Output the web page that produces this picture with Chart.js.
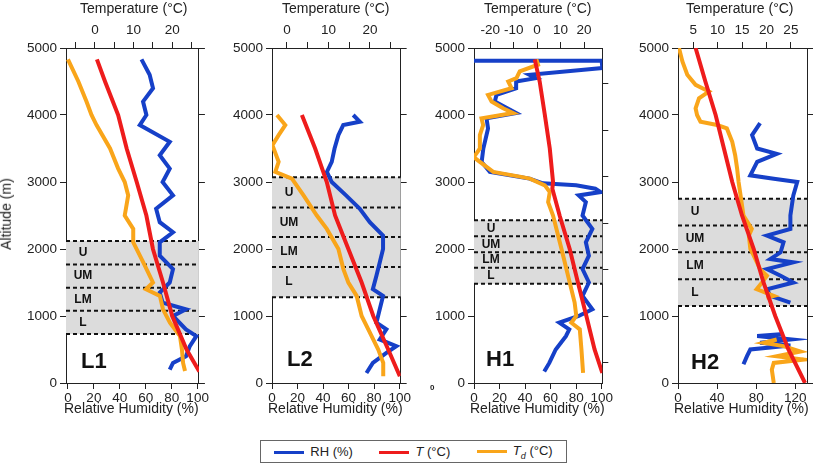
<!DOCTYPE html>
<html>
<head>
<meta charset="utf-8">
<script src="https://cdn.jsdelivr.net/npm/chart.js@4"></script>
<style>
  body { margin: 0; background: #fff; font-family: "Liberation Sans", Arial, sans-serif; }
  #wrap { position: relative; width: 821px; height: 464px; overflow: hidden; }
  canvas { position: absolute; top: 0; }
  .txt { position: absolute; font-size: 14px; color: #222; white-space: nowrap; }
  .big { position: absolute; font-size: 22px; font-weight: bold; color: #111; }
  #legend { position: absolute; left: 260px; top: 440px; width: 305px; height: 21px; border: 1px solid #666;
            display: flex; align-items: center; justify-content: space-around; font-size: 13px; color: #222; }
  .sw { display: inline-block; width: 30px; height: 3px; vertical-align: middle; margin-right: 6px; }
</style>
</head>
<body>
<div id="wrap">
  <canvas id="c0" width="210" height="420" style="left:0px;width:210px;height:420px"></canvas>
  <canvas id="c1" width="190" height="420" style="left:222px;width:190px;height:420px"></canvas>
  <canvas id="c2" width="190" height="420" style="left:424px;width:190px;height:420px"></canvas>
  <canvas id="c3" width="190" height="420" style="left:628px;width:190px;height:420px"></canvas>

  <div class="txt" style="left:80px;top:0px">Temperature (°C)</div>
  <div class="txt" style="left:282px;top:0px">Temperature (°C)</div>
  <div class="txt" style="left:484px;top:0px">Temperature (°C)</div>
  <div class="txt" style="left:686px;top:0px">Temperature (°C)</div>
  <div class="txt" style="left:64px;top:400px">Relative Humidity (%)</div>
  <div class="txt" style="left:268px;top:400px">Relative Humidity (%)</div>
  <div class="txt" style="left:470px;top:400px">Relative Humidity (%)</div>
  <div class="txt" style="left:674px;top:400px">Relative Humidity (%)</div>
  <div class="txt" style="left:-30px;top:206px;transform:rotate(-90deg)">Altitude (m)</div>
  <div class="txt" style="left:430px;top:383px;font-size:8px;font-weight:bold">0</div>

  <div class="big" style="left:81px;top:348px">L1</div>
  <div class="big" style="left:287px;top:346px">L2</div>
  <div class="big" style="left:486px;top:346px">H1</div>
  <div class="big" style="left:691px;top:349px">H2</div>

  <div id="legend">
    <span><span class="sw" style="background:#1640c8"></span>RH (%)</span>
    <span><span class="sw" style="background:#ee1c1c"></span><i>T</i> (°C)</span>
    <span><span class="sw" style="background:#f9a51a"></span><i>T</i><sub style="font-size:9px"><i>d</i></sub> (°C)</span>
  </div>
</div>

<script>
// ---- L1 ----
const l1TAlt = [4830, 4500, 4000, 3500, 3000, 2500, 2000, 1500, 1000, 500, 170];
const l1T = [0.5, 2.6, 6, 8.2, 10.8, 13.3, 15, 17.6, 20, 23.7, 27];
const l1TdAlt = [4830, 4500, 4200, 4000, 3850, 3500, 3200, 3000, 2800, 2500, 2300, 2100, 1800, 1500, 1400, 1300, 1100, 900, 700, 500, 300, 180];
const l1Td = [-7, -4.3, -2.2, -0.9, 0.4, 3.9, 6, 7.7, 8.6, 7.7, 9.9, 9.9, 12.5, 15, 13.2, 16.8, 17.6, 19.4, 22, 22.5, 22.8, 23.3];
const l1RhAlt = [4830, 4600, 4400, 4200, 4000, 3850, 3600, 3400, 3200, 3000, 2800, 2600, 2400, 2250, 2100, 1900, 1700, 1500, 1350, 1200, 1100, 1000, 800, 700, 550, 400, 300, 200];
const l1Rh = [56.7, 63, 65.6, 57.9, 60.5, 55.4, 78.5, 70.8, 78.5, 73, 81, 68, 70.8, 81, 70.8, 70.8, 81, 78.5, 70.8, 73, 91, 81, 91, 99, 94, 91, 81, 78.5];
const l1Layers = [2120, 1770, 1420, 1080, 730];

// ---- L2 ----
const l2TAlt = [4000, 3500, 3000, 2500, 2000, 1500, 1000, 500, 100];
const l2T = [3.6, 6.8, 9.6, 11.6, 14.8, 18, 20.8, 24.4, 27.2];
const l2TdAlt = [4000, 3850, 3700, 3550, 3300, 3150, 3050, 2800, 2500, 2300, 2000, 1700, 1500, 1300, 1000, 800, 500, 300, 100];
const l2Td = [-2.4, -0.4, -2, -3.5, -2, -2.8, 1.2, 4, 7.2, 9.6, 12.4, 13.6, 14.8, 16.8, 18, 19.6, 22, 23.2, 23.2];
const l2RhAlt = [4000, 3900, 3850, 3700, 3500, 3300, 3150, 3000, 2800, 2600, 2400, 2200, 2000, 1800, 1600, 1400, 1300, 1100, 900, 800, 650, 550, 450, 300, 150];
const l2Rh = [63.6, 68.8, 55.8, 52, 49, 46.8, 43, 46.8, 58, 68.8, 76.6, 87, 87, 84.4, 81.8, 79, 87, 84.4, 81.8, 89.6, 84.4, 97.4, 89.6, 79, 74];
const l2Layers = [3070, 2620, 2180, 1730, 1280];

// ---- H1 ----
const h1TAlt = [4830, 4500, 4000, 3500, 3000, 2900, 2500, 2000, 1500, 1000, 500, 150];
const h1T = [-1, 1.1, 3.3, 5.4, 6.8, 6.5, 9.6, 13.9, 17.4, 21, 24.5, 27.8];
const h1TdAlt = [4830, 4750, 4650, 4550, 4500, 4400, 4300, 4200, 4100, 4030, 4000, 3950, 3850, 3700, 3500, 3370, 3300, 3150, 3080, 3050, 2950, 2850, 2700, 2500, 2000, 1500, 1200, 1000, 900, 800, 500, 150];
const h1Td = [-0.3, 0.4, -7.4, -8.8, -12.3, -10.9, -20.9, -19.4, -14.5, -10.2, -15.2, -23.7, -23, -24.4, -24.4, -27, -24.4, -18.7, -7.4, -3.1, 3.3, 5.4, 4.7, 6.8, 10.4, 13.9, 16, 16.7, 14.6, 18.2, 18.9, 19.6];
const h1RhAlt = [4810, 4810, 4700, 4600, 4550, 4500, 4400, 4300, 4200, 4030, 3950, 3800, 3500, 3300, 3150, 3050, 2980, 2950, 2900, 2850, 2800, 2700, 2500, 2300, 2100, 1900, 1700, 1500, 1300, 1100, 1000, 900, 800, 700, 500, 300, 170];
const h1Rh = [0, 100, 100.5, 43.5, 48.7, 33, 33, 17.6, 16.3, 33, 9.8, 11, 7.3, 6, 12.4, 43.5, 54, 80, 95, 99, 82, 87.6, 85, 92.7, 87.6, 90, 85, 90, 85, 92.7, 82, 66.8, 74.6, 72, 64, 59, 55];
const h1Layers = [2430, 2190, 1950, 1720, 1480];

// ---- H2 ----
const h2TAlt = [5000, 4500, 4000, 3500, 3000, 2500, 2000, 1500, 1000, 500, 0];
const h2T = [5.5, 7.5, 9.6, 11.3, 13, 15, 17.4, 19.4, 21.8, 24.5, 27.9];
const h2TdAlt = [5000, 4800, 4600, 4450, 4350, 4250, 4100, 4000, 3900, 3850, 3800, 3600, 3400, 3200, 3000, 2800, 2500, 2300, 2200, 2000, 1900, 1700, 1600, 1500, 1400, 1300, 1270, 1000, 650, 600, 550, 470, 400, 350, 300, 200, 0];
const h2Td = [2.1, 2.8, 3.8, 5.5, 8.2, 6.2, 5.5, 5.8, 6.5, 9.9, 11.9, 13, 13.6, 14, 14.3, 14.7, 15.3, 17, 16.4, 16.7, 17.4, 18.7, 20.1, 19.1, 18, 21.5, 20, null, 22.1, 19.4, 23.5, 26.9, 22.1, 27.6, 21.5, 21.1, 21.5];
const h2RhAlt = [3880, 3700, 3500, 3420, 3300, 3100, 3050, 3000, 2800, 2500, 2300, 2200, 2100, 1950, 1850, 1800, 1700, 1600, 1500, 1400, 1300, 1200, 1000, 730, 700, 650, 600, 560, 500, 400, 280];
const h2Rh = [84, 75.8, 81, 101, 81, 74, 98, 122, 118, 115, 115, 91, 108, 105, 94.5, 118, 91, 105, 118, 91, 94.5, 115, null, 108, 81, 115, 84, 115, 74, 70.6, 67];
const h2Layers = [2750, 2350, 1950, 1550, 1150];

const layerNames = ['U', 'UM', 'LM', 'L'];

const panels = [
  { id: 'c0', yW: 66, rh: [l1RhAlt, l1Rh], t: [l1TAlt, l1T], td: [l1TdAlt, l1Td], layers: l1Layers,
    rhMin: -1.5, rhMax: 101, rhTicks: [0, 20, 40, 60, 80, 100], rhLab: 20,
    tMin: -7.5, tMax: 26.9, tTicks: [-5, 0, 5, 10, 15, 20, 25], tLab: 10, y2: null },
  { id: 'c1', yW: 50, rh: [l2RhAlt, l2Rh], t: [l2TAlt, l2T], td: [l2TdAlt, l2Td], layers: l2Layers,
    rhMin: 0, rhMax: 100.8, rhTicks: [0, 20, 40, 60, 80, 100], rhLab: 20,
    tMin: -3.6, tMax: 27.4, tTicks: [0, 5, 10, 15, 20, 25], tLab: 10, y2: null },
  { id: 'c2', yW: 50, rh: [h1RhAlt, h1Rh], t: [h1TAlt, h1T], td: [h1TdAlt, h1Td], layers: h1Layers,
    rhMin: 0, rhMax: 100.5, rhTicks: [0, 20, 40, 60, 80, 100], rhLab: 20,
    tMin: -26.9, tMax: 27.8, tTicks: [-20, -10, 0, 10, 20], tLab: 10, y2: [-0.437, 6.768] },
  { id: 'c3', yW: 50, rh: [h2RhAlt, h2Rh], t: [h2TAlt, h2T], td: [h2TdAlt, h2Td], layers: h2Layers,
    rhMin: 0, rhMax: 132, rhTicks: [0, 20, 40, 60, 80, 100, 120], rhLab: 40,
    tMin: 1.9, tMax: 28.3, tTicks: [5, 10, 15, 20, 25], tLab: 5, y2: null }
];

function pts(alts, vals) {
  return alts.map((a, i) => ({ x: vals[i] === null ? NaN : vals[i], y: a }));
}

const bandPlugin = {
  id: 'bands',
  beforeDatasetsDraw(chart, args, opts) {
    const ctx = chart.ctx, y = chart.scales.y, area = chart.chartArea;
    const L = opts.layers;
    ctx.save();
    ctx.fillStyle = '#dcdcdc';
    const top = y.getPixelForValue(L[0]), bot = y.getPixelForValue(L[L.length - 1]);
    ctx.fillRect(area.left, top, area.right - area.left, bot - top);
    ctx.strokeStyle = '#111';
    ctx.lineWidth = 2;
    ctx.setLineDash([4, 3]);
    L.forEach(v => {
      const p = y.getPixelForValue(v);
      ctx.beginPath(); ctx.moveTo(area.left, p); ctx.lineTo(area.right, p); ctx.stroke();
    });
    ctx.setLineDash([]);
    ctx.fillStyle = '#111';
    ctx.font = 'bold 12px "Liberation Sans", Arial';
    ctx.textAlign = 'center';
    ctx.textBaseline = 'middle';
    for (let i = 0; i < 4; i++) {
      const mid = (y.getPixelForValue(L[i]) + y.getPixelForValue(L[i + 1])) / 2;
      ctx.fillText(layerNames[i], area.left + 17, mid);
    }
    ctx.restore();
  }
};

const tickFont = { family: '"Liberation Sans", Arial', size: 13.5 };
const gridOut = { drawOnChartArea: false, color: '#222', tickLength: 6 };
const border = { color: '#222', width: 1 };

panels.forEach(p => {
  const scales = {
    y: {
      position: 'left', min: 0, max: 5000,
      ticks: { stepSize: 1000, color: '#222', font: tickFont, padding: 3, callback: v => String(v) },
      grid: gridOut, border: border,
      afterFit: s => { s.width = p.yW; }
    },
    yR: {
      position: 'right',
      min: p.y2 ? p.y2[0] : 0, max: p.y2 ? p.y2[1] : 5000,
      ticks: { display: false, stepSize: p.y2 ? 1 : 1000 },
      afterBuildTicks: s => {
        if (p.y2) s.ticks = [0, 1, 2, 3, 4, 5, 6].map(v => ({ value: v }));
      },
      grid: gridOut, border: border,
      afterFit: s => { s.width = 11; }
    },
    x: {
      type: 'linear', position: 'bottom', min: p.rhMin, max: p.rhMax,
      afterBuildTicks: s => { s.ticks = p.rhTicks.map(v => ({ value: v })); },
      ticks: { color: '#222', font: tickFont, padding: 1, maxRotation: 0,
               callback: v => (v % p.rhLab === 0 ? String(v) : '') },
      grid: gridOut, border: border,
      afterFit: s => { s.height = 37; }
    },
    xT: {
      type: 'linear', position: 'top', min: p.tMin, max: p.tMax,
      afterBuildTicks: s => { s.ticks = p.tTicks.map(v => ({ value: v })); },
      ticks: { color: '#222', font: tickFont, padding: 4, maxRotation: 0,
               callback: v => (v % p.tLab === 0 ? String(v) : '') },
      grid: gridOut, border: border,
      afterFit: s => { s.height = 48; }
    }
  };

  new Chart(document.getElementById(p.id).getContext('2d'), {
    type: 'scatter',
    data: {
      datasets: [
        { label: 'T', data: pts(p.t[0], p.t[1]), xAxisID: 'xT', borderColor: '#ee1c1c', order: 0 },
        { label: 'Td', data: pts(p.td[0], p.td[1]), xAxisID: 'xT', borderColor: '#f9a51a', order: 1 },
        { label: 'RH', data: pts(p.rh[0], p.rh[1]), xAxisID: 'x', borderColor: '#1640c8', order: 2 }
      ].map(d => Object.assign(d, { showLine: true, pointRadius: 0, borderWidth: 4, spanGaps: false, yAxisID: 'y' }))
    },
    options: {
      responsive: false,
      animation: false,
      layout: { padding: 0 },
      plugins: { legend: { display: false }, tooltip: { enabled: false }, bands: { layers: p.layers } },
      scales: scales
    },
    plugins: [bandPlugin]
  });
});
</script>
</body>
</html>
